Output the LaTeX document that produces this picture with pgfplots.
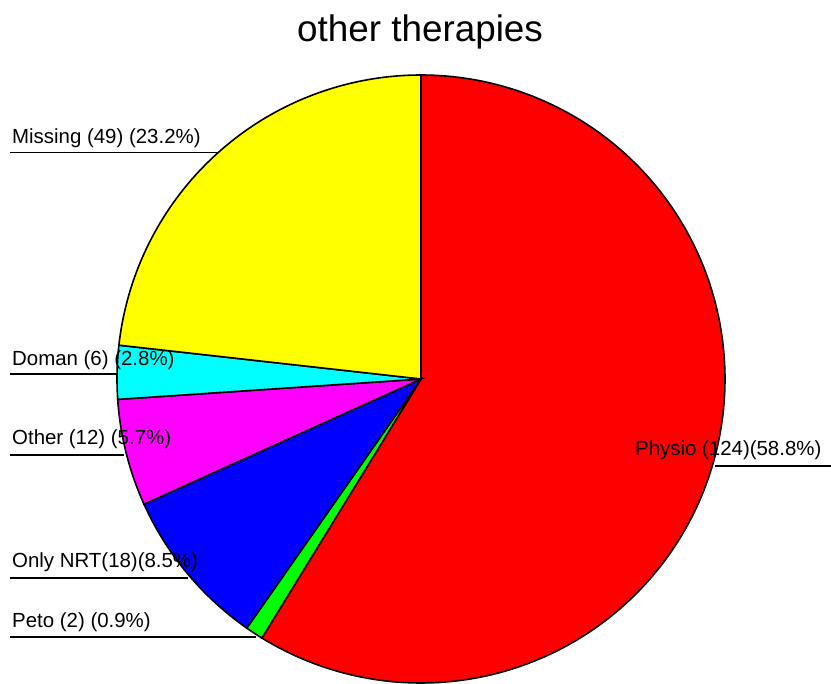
\documentclass[border=0pt]{standalone}
\usepackage{pgfplots}
\pgfplotsset{compat=1.18}
\usepackage{fontspec}
\setmainfont{Liberation Sans}
\tikzset{lab/.style={anchor=base west, font=\fontsize{20.5}{22}\selectfont, inner sep=0pt}}
% counts
\def\nPhysio{124}
\def\nPeto{2}
\def\nNRT{18}
\def\nOther{12}
\def\nDoman{6}
\def\nMissing{49}
\pgfmathsetmacro{\total}{\nPhysio+\nPeto+\nNRT+\nOther+\nDoman+\nMissing}
\pgfmathsetmacro{\aA}{90}
\pgfmathsetmacro{\aB}{\aA-360*(\nPhysio/\total)}
\pgfmathsetmacro{\aC}{\aB-360*(\nPeto/\total)}
\pgfmathsetmacro{\aD}{\aC-360*(\nNRT/\total)}
\pgfmathsetmacro{\aE}{\aD-360*(\nOther/\total)}
\pgfmathsetmacro{\aF}{\aE-360*(\nDoman/\total)}
\pgfmathsetmacro{\aG}{\aF-360*(\nMissing/\total)}
\def\cx{421}
\def\cy{379}
\def\R{304}
\begin{document}
\begin{tikzpicture}
\begin{axis}[
  scale only axis, width=831bp, height=684bp,
  xmin=0, xmax=831, ymin=0, ymax=684, y dir=reverse,
  hide axis, clip=true,
  every axis plot/.append style={line width=1.6bp, draw=black},
]
\path (rel axis cs:0,0) rectangle (rel axis cs:1,1);
\addplot[fill={rgb,255:red,255;green,0;blue,0}, domain=\aB:\aA, samples=200, variable=\t]
  ({\cx+\R*cos(\t)},{\cy-\R*sin(\t)}) -- (axis cs:\cx,\cy) -- cycle;
\addplot[fill={rgb,255:red,0;green,255;blue,0}, domain=\aC:\aB, samples=10, variable=\t]
  ({\cx+\R*cos(\t)},{\cy-\R*sin(\t)}) -- (axis cs:\cx,\cy) -- cycle;
\addplot[fill={rgb,255:red,0;green,0;blue,255}, domain=\aD:\aC, samples=60, variable=\t]
  ({\cx+\R*cos(\t)},{\cy-\R*sin(\t)}) -- (axis cs:\cx,\cy) -- cycle;
\addplot[fill={rgb,255:red,255;green,0;blue,255}, domain=\aE:\aD, samples=40, variable=\t]
  ({\cx+\R*cos(\t)},{\cy-\R*sin(\t)}) -- (axis cs:\cx,\cy) -- cycle;
\addplot[fill={rgb,255:red,0;green,255;blue,255}, domain=\aF:\aE, samples=20, variable=\t]
  ({\cx+\R*cos(\t)},{\cy-\R*sin(\t)}) -- (axis cs:\cx,\cy) -- cycle;
\addplot[fill={rgb,255:red,255;green,255;blue,0}, domain=\aG:\aF, samples=120, variable=\t]
  ({\cx+\R*cos(\t)},{\cy-\R*sin(\t)}) -- (axis cs:\cx,\cy) -- cycle;
% label leader lines
\addplot[line width=1.3bp] coordinates {(10,152.5) (217,152.5)};
\addplot[line width=1.3bp] coordinates {(10,374) (118,374)};
\addplot[line width=1.3bp] coordinates {(10,455) (124,455)};
\addplot[line width=1.3bp] coordinates {(10,578) (188,578)};
\addplot[line width=1.3bp] coordinates {(10,637) (256,637)};
\addplot[line width=1.3bp] coordinates {(715,466) (831,466)};
% labels
\node[lab] at (axis cs:12,143) {Missing (49) (23.2\%)};
\node[lab] at (axis cs:12,365) {Doman (6) (2.8\%)};
\node[lab] at (axis cs:12,444) {Other (12) (5.7\%)};
\node[lab] at (axis cs:12,567) {Only NRT(18)(8.5\%)};
\node[lab] at (axis cs:12,627) {Peto (2) (0.9\%)};
\node[lab] at (axis cs:635,455) {Physio (124)(58.8\%)};
% title
\node[anchor=base, font=\fontsize{37}{40}\selectfont, inner sep=0pt] at (axis cs:420,42) {other therapies};
\end{axis}
\end{tikzpicture}
\end{document}
